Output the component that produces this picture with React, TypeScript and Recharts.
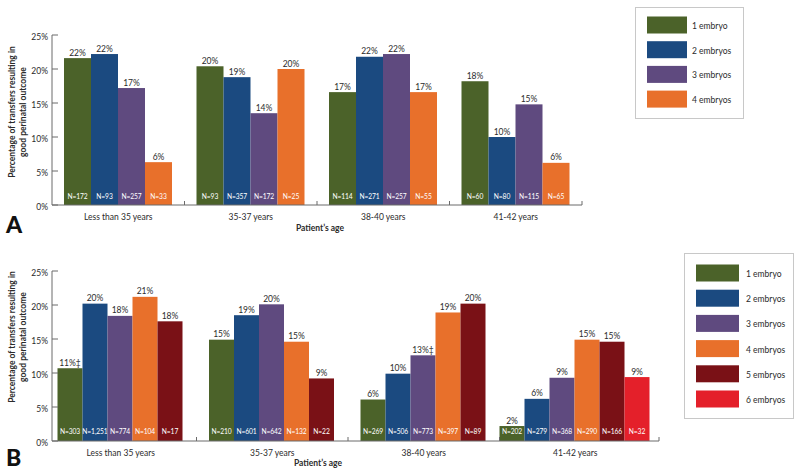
import React from "react";
import { BarChart, Bar, XAxis, YAxis } from "recharts";

// ---------- data ----------
const ageGroups = ["Less than 35 years", "35-37 years", "38-40 years", "41-42 years"];
const yTicks = [0, 5, 10, 15, 20, 25];

const seriesNames = ["1 embryo", "2 embryos", "3 embryos", "4 embryos", "5 embryos", "6 embryos"];
const seriesColors = ["#4b6229", "#1b4a80", "#5f4a7f", "#e8702b", "#7a1116", "#e4202a"];

// Panel A: percentage of transfers resulting in good perinatal outcome
const a1 = [21.6, 20.4, 16.6, 18.2];
const a2 = [22.2, 18.8, 21.8, 10.0];
const a3 = [17.2, 13.5, 22.2, 14.8];
const a4 = [6.3, 20.0, 16.6, 6.2];
const aN1 = [172, 93, 114, 60];
const aN2 = [93, 357, 271, 80];
const aN3 = [257, 172, 257, 115];
const aN4 = [33, 25, 55, 65];

// Panel B
const b1 = [10.7, 14.9, 6.1, 2.2];
const b2 = [20.2, 18.5, 9.9, 6.2];
const b3 = [18.4, 20.1, 12.6, 9.3];
const b4 = [21.2, 14.6, 18.9, 14.9];
const b5 = [17.6, 9.2, 20.2, 14.6];
const b6 = [null, null, null, 9.4];
const bN1 = [303, 210, 269, 202];
const bN2 = [1251, 601, 506, 279];
const bN3 = [774, 642, 773, 368];
const bN4 = [104, 132, 397, 290];
const bN5 = [17, 22, 89, 166];
const bN6 = [null, null, null, 32];
const bMark1 = ["‡", "", "", ""];
const bMark3 = ["", "", "‡", ""];

// ---------- tables ----------
const rowsA = ageGroups.map((age, i) => ({
  age,
  s1: a1[i], s2: a2[i], s3: a3[i], s4: a4[i],
  n1: aN1[i], n2: aN2[i], n3: aN3[i], n4: aN4[i],
  m1: "", m2: "", m3: "", m4: "",
}));

const rowsB = ageGroups.map((age, i) => ({
  age,
  s1: b1[i], s2: b2[i], s3: b3[i], s4: b4[i], s5: b5[i], s6: b6[i],
  n1: bN1[i], n2: bN2[i], n3: bN3[i], n4: bN4[i], n5: bN5[i], n6: bN6[i],
  m1: bMark1[i], m2: "", m3: bMark3[i], m4: "", m5: "", m6: "",
}));

// ---------- style ----------
const FONT = "Lato, 'DejaVu Sans', sans-serif";
const AXIS = "#6a6a6a";
const TXT = "#2b2b2b";
const W = 800;
const H_CHART = 240;

function makeShape(k: number, color: string, nCount: number, nOffset: number) {
  return (props: any) => {
    const { x, y, width, height, payload } = props;
    const v = payload ? payload[`s${k}`] : null;
    if (v == null || width == null) return null;
    // centre the groups that have fewer series than slots
    const used = [1, 2, 3, 4, 5, 6].slice(0, nCount).filter((j) => payload[`s${j}`] != null).length;
    const shift = ((nCount - used) * width) / 2;
    const bx = x + shift;
    const base = y + height;
    const n = payload[`n${k}`];
    return (
      <g>
        <rect x={bx} y={y} width={width} height={height} fill={color} />
        <text x={bx + width / 2} y={y - 2.5} textAnchor="middle" fontSize={8.5} fill={TXT} fontFamily={FONT}>
          {`${Math.round(v)}%${payload[`m${k}`] || ""}`}
        </text>
        {n != null && (
          <text x={bx + width / 2} y={base - nOffset} textAnchor="middle" fontSize={6.7} letterSpacing={-0.1} fill="#ffffff" fontFamily={FONT}>
            {`N=${Number(n).toLocaleString("en-US")}`}
          </text>
        )}
      </g>
    );
  };
}

function makeCatTick(endX: number, count: number) {
  return (props: any) => {
    const { x, y, payload, index } = props;
    const half = payload && payload.offset != null ? payload.offset : 0;
    const bx = index === count - 1 ? endX : payload.coordinate + half;
    return (
      <g>
        <line x1={bx} x2={bx} y1={y} y2={y - 4} stroke={AXIS} strokeWidth={1} />
        <text x={x} y={y + 12} textAnchor="middle" dominantBaseline="central" fontSize={8.5} fill={TXT} fontFamily={FONT}>
          {payload.value}
        </text>
      </g>
    );
  };
}

const YTick = (props: any) => {
  const { x, y, payload } = props;
  return (
    <g>
      <line x1={x} x2={x + 6} y1={y} y2={y} stroke={AXIS} strokeWidth={1} />
      <text x={x - 4} y={y + 1.5} textAnchor="end" dominantBaseline="central" fontSize={8.5} fill={TXT} fontFamily={FONT}>
        {`${payload.value}%`}
      </text>
    </g>
  );
};

function Panel(props: {
  rows: any[];
  nSeries: number;
  marginRight: number;
  gap: number;
  padding: { left: number; right: number };
  nOffset: number;
}) {
  const { rows, nSeries, marginRight, gap, padding, nOffset } = props;
  const keys = [1, 2, 3, 4, 5, 6].slice(0, nSeries);
  return (
    <BarChart
      width={W}
      height={H_CHART}
      data={rows}
      margin={{ top: 35, right: marginRight, bottom: 0, left: 0 }}
      barCategoryGap={gap}
      barGap={0}
    >
      <XAxis
        dataKey="age"
        height={35}
        interval={0}
        tickLine={false}
        tickSize={0}
        tickMargin={0}
        padding={padding}
        axisLine={{ stroke: AXIS, strokeWidth: 1 }}
        tick={makeCatTick(W - marginRight, rows.length)}
      />
      <YAxis
        width={52}
        domain={[0, 25]}
        ticks={yTicks}
        interval={0}
        tickLine={false}
        tickSize={0}
        tickMargin={0}
        axisLine={{ stroke: AXIS, strokeWidth: 1 }}
        tick={<YTick />}
      />
      {keys.map((k) => (
        <Bar
          key={k}
          dataKey={`s${k}`}
          fill={seriesColors[k - 1]}
          isAnimationActive={false}
          shape={makeShape(k, seriesColors[k - 1], nSeries, nOffset)}
        />
      ))}
    </BarChart>
  );
}

function LegendBox(props: {
  x: number; y: number; w: number; h: number;
  count: number; swX: number; swW: number; swH: number; firstY: number; step: number; textX: number;
}) {
  const { x, y, w, h, count, swX, swW, swH, firstY, step, textX } = props;
  return (
    <g>
      <rect x={x + 0.5} y={y + 0.5} width={w} height={h} fill="#ffffff" stroke="#c8c8c8" strokeWidth={1} />
      {seriesNames.slice(0, count).map((name, i) => (
        <g key={name}>
          <rect x={swX} y={firstY + i * step - swH / 2} width={swW} height={swH} fill={seriesColors[i]} />
          <text x={textX} y={firstY + i * step + 1} dominantBaseline="central" fontSize={8.5} fill={TXT} fontFamily={FONT}>
            {name}
          </text>
        </g>
      ))}
    </g>
  );
}

function AxisTitles(props: { cy: number; labelY: number; labelX: number; letter: string; letterY: number }) {
  const { cy, labelY, labelX, letter, letterY } = props;
  return (
    <g fontFamily={FONT} fill={TXT} fontWeight={700}>
      <text transform={`translate(12,${cy}) rotate(-90)`} textAnchor="middle" dominantBaseline="central" fontSize={8.5}>
        Percentage of transfers resulting in
      </text>
      <text transform={`translate(23,${cy}) rotate(-90)`} textAnchor="middle" dominantBaseline="central" fontSize={8.5}>
        good perinatal outcome
      </text>
      <text x={labelX} y={labelY} textAnchor="middle" dominantBaseline="central" fontSize={8.5}>
        Patient’s age
      </text>
      <text x={6} y={letterY} fontSize={23} fontWeight={900} fill="#111">
        {letter}
      </text>
    </g>
  );
}

export default function App() {
  return (
    <div style={{ position: "absolute", left: 0, top: 0, width: W, height: 475, background: "#ffffff", overflow: "hidden" }}>
      <div style={{ position: "absolute", left: 0, top: 0 }}>
        <Panel rows={rowsA} nSeries={4} marginRight={218} gap={12} padding={{ left: 0, right: 0 }} nOffset={6} />
      </div>
      <div style={{ position: "absolute", left: 0, top: 236 }}>
        <Panel rows={rowsB} nSeries={6} marginRight={141} gap={0} padding={{ left: -7, right: 8 }} nOffset={7} />
      </div>
      <svg width={W} height={475} style={{ position: "absolute", left: 0, top: 0, pointerEvents: "none" }}>
        <AxisTitles cy={112} labelY={228} labelX={320} letter="A" letterY={233} />
        <AxisTitles cy={337} labelY={463} labelX={318} letter="B" letterY={466} />
        <LegendBox x={635} y={7} w={108} h={111} count={4} swX={647} swW={40} swH={17} firstY={25} step={24.7} textX={692} />
        <LegendBox x={684} y={253} w={109} h={165} count={6} swX={696} swW={43} swH={17} firstY={273} step={25.2} textX={746} />
      </svg>
    </div>
  );
}
